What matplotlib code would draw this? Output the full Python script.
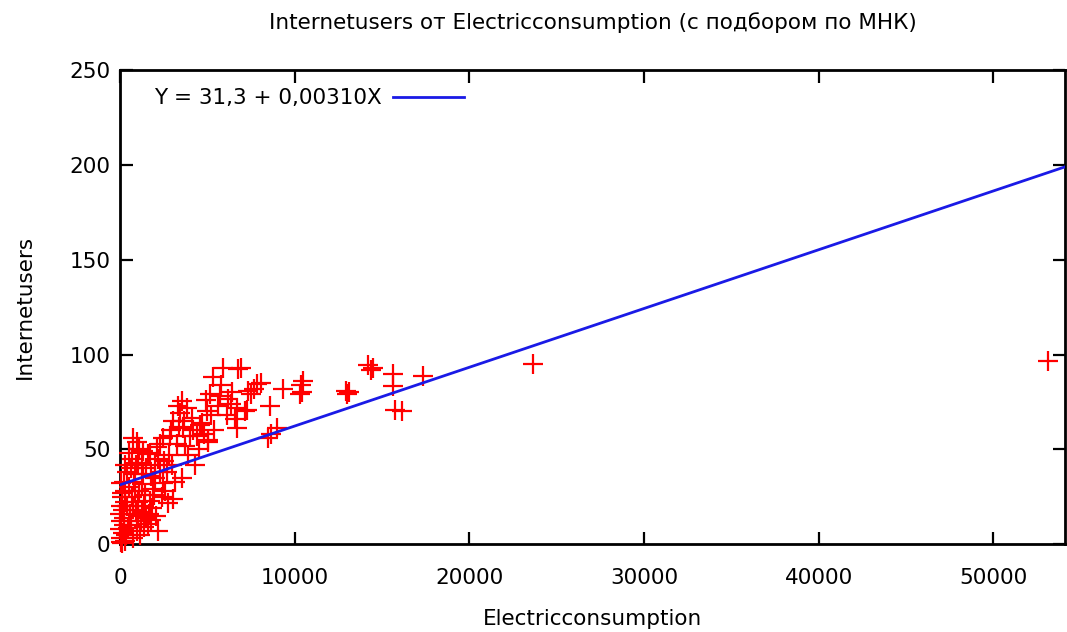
import matplotlib
matplotlib.use("Agg")
import matplotlib.pyplot as plt
import numpy as np

# data (Electricconsumption, Internetusers)
elec = [
    53150, 23650,
    17350, 16150, 15750, 15600, 15650, 14500, 14200, 14350,
    13100, 13000, 12950,
    10450, 10350, 10400, 10300,
    9350, 8600, 9000, 8450, 8650,
    7650, 8050, 7850, 7300, 7500, 6900, 5900, 6750,
    5350, 5700, 6200, 5150, 6700, 6600, 6700, 7250, 7150,
    4980, 4600, 5050, 3550, 3850, 3450, 3050, 4100, 3600, 4400,
    2850, 2450, 3250, 2100, 970, 1320, 1720, 5050, 4300, 3700,
    3900, 4800, 5600, 6350, 6100, 5400, 4200, 3300, 3650, 2800,
    2500, 2300, 2700, 3000, 4500, 3150, 2000, 740,
    1030, 1600, 860, 2000, 2460, 2750, 2410, 1430, 2180, 1600,
    1030, 570, 460, 740, 290, 3550, 3040, 290, 300, 250,
    1260, 1830, 1320, 1800, 1500, 1200, 900, 700, 500, 800,
    1100, 600, 400, 1500, 1900, 2200, 1700, 1400, 650, 950,
    1150, 350, 200, 150, 100, 50, 80, 30, 120, 180,
    60, 40, 20, 10, 90, 250, 400, 550, 750, 850,
    1000, 1250, 1350, 1650, 2050, 1950, 700, 500, 1100, 1800,
    2300, 2600, 1250, 900, 300,
    4700, 5200, 5800, 6400, 3400, 2900, 4000, 4900,
]
users = [
    96.5, 95,
    88.5, 70, 71, 83.5, 90, 93, 94.5, 92,
    80, 79, 81,
    86, 84, 80, 79,
    82, 73, 61, 56, 58,
    82, 85, 84.5, 81, 79, 93, 93, 92.5,
    88, 78, 76.5, 79, 72, 66, 61, 71, 70,
    70, 63, 54, 75.5, 72, 69, 65, 66.5, 61, 57,
    57, 56, 53, 51, 54, 49, 48, 55, 42, 52,
    47, 58, 73, 74, 68, 60, 60, 73, 65, 47,
    44, 53, 38, 42, 50, 33, 42, 56,
    43, 47.5, 37, 35, 32, 21.7, 25, 26, 7, 10.6,
    15, 16, 8.5, 3, 1.5, 35, 24, 28, 22, 14,
    31.7, 19, 37, 13, 14, 12, 18, 25, 30, 33,
    28, 40, 38, 40, 29, 45, 23, 20, 10, 7,
    5, 5, 10, 18, 25, 32, 3, 1, 0.5, 6,
    12, 20, 16, 8, 27, 33, 20, 12, 20, 28,
    22, 17, 9, 16, 15, 26, 45, 48, 50, 36,
    38, 28, 43, 42, 42,
    64, 68, 84, 80, 62, 60, 57, 76,
]

intercept = 31.3
slope = 0.00310
x_max = 54120
y_max = 250
y_ticks = [0, 50, 100, 150, 200, 250]
x_ticks = [0, 10000, 20000, 30000, 40000, 50000]

title = "Internetusers от Electricconsumption (с подбором по МНК)"
fit_label = "Y = 31,3 + 0,00310X"

fs = 15.5

fig = plt.figure(figsize=(10.67, 6.32), dpi=100)
ax = fig.add_axes([0.1125, 0.139, 0.886, 0.750])

ax.plot(elec, users, linestyle="none", marker="+", color="#ff0000",
        markersize=15, markeredgewidth=1.6, clip_on=False, zorder=3)

xs = np.array([0, x_max])
ax.plot(xs, intercept + slope * xs, color="#1a1ae6", linewidth=2.0,
        label=fit_label, zorder=4)

ax.set_xlim(0, x_max)
ax.set_ylim(0, y_max)
ax.set_xticks(x_ticks)
ax.set_yticks(y_ticks)
ax.tick_params(direction="in", length=9, width=1.6, top=True, right=True,
               labelsize=fs)
ax.tick_params(axis="y", pad=7)
ax.tick_params(axis="x", pad=17)
for s in ax.spines.values():
    s.set_linewidth(2)

fig.text(0.556, 0.965, title, ha="center", va="center", fontsize=fs)
ax.set_xlabel("Electricconsumption", fontsize=fs)
ax.set_ylabel("Internetusers", fontsize=fs)
ax.xaxis.set_label_coords(0.5, -0.137)
ax.yaxis.set_label_coords(-0.09, 0.5)

ax.legend(loc="upper left", bbox_to_anchor=(0.036, 0.962), frameon=False,
          markerfirst=False, fontsize=fs, handlelength=3.3,
          handletextpad=0.5, borderpad=0, borderaxespad=0)

fig.savefig("out.png", dpi=100)
